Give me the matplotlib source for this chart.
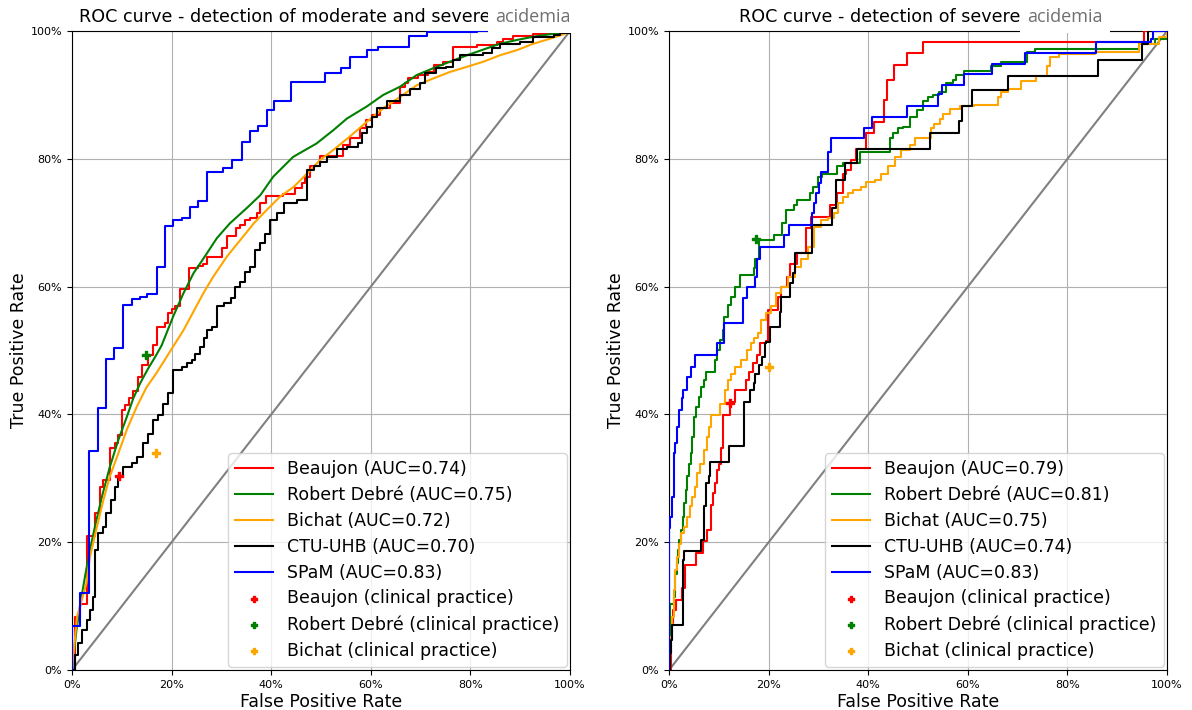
import matplotlib
matplotlib.use("Agg")
import matplotlib.pyplot as plt
from matplotlib.ticker import PercentFormatter

# ---------------- data : left panel (moderate and severe acidemia) ----------------
L_beaujon_fpr = [0, 0.006, 0.017, 0.031, 0.046, 0.056, 0.063, 0.076, 0.086, 0.093, 0.1, 0.106, 0.115, 0.123, 0.132, 0.14, 0.153, 0.163, 0.171, 0.187, 0.193, 0.2, 0.207, 0.217, 0.234, 0.254, 0.264, 0.272, 0.302, 0.311, 0.329, 0.337, 0.347, 0.357, 0.371, 0.378, 0.39, 0.424, 0.448, 0.461, 0.468, 0.478, 0.498, 0.545, 0.558, 0.578, 0.59, 0.602, 0.618, 0.639, 0.659, 0.668, 0.675, 0.695, 0.715, 0.726, 0.745, 0.766, 0.813, 0.853, 0.866, 0.886, 0.926, 0.967, 0.98, 1.0]
L_beaujon_tpr = [0, 0.083, 0.104, 0.209, 0.245, 0.287, 0.297, 0.347, 0.355, 0.368, 0.407, 0.415, 0.425, 0.436, 0.459, 0.477, 0.493, 0.509, 0.537, 0.543, 0.558, 0.565, 0.57, 0.596, 0.629, 0.632, 0.636, 0.647, 0.661, 0.679, 0.691, 0.696, 0.704, 0.707, 0.715, 0.731, 0.742, 0.745, 0.754, 0.762, 0.772, 0.788, 0.804, 0.822, 0.832, 0.848, 0.861, 0.869, 0.879, 0.888, 0.913, 0.918, 0.926, 0.931, 0.936, 0.947, 0.952, 0.975, 0.978, 0.983, 0.988, 0.992, 0.995, 0.998, 1.0, 1.0]

L_debre_fpr = [0, 0.009, 0.017, 0.026, 0.036, 0.046, 0.06, 0.076, 0.093, 0.11, 0.123, 0.137, 0.153, 0.167, 0.18, 0.203, 0.224, 0.244, 0.264, 0.291, 0.317, 0.351, 0.378, 0.404, 0.444, 0.491, 0.525, 0.552, 0.592, 0.625, 0.659, 0.692, 0.726, 0.759, 0.793, 0.826, 0.859, 0.893, 0.926, 0.96, 0.987, 1.0]
L_debre_tpr = [0, 0.063, 0.104, 0.146, 0.188, 0.224, 0.271, 0.318, 0.36, 0.396, 0.425, 0.449, 0.472, 0.49, 0.508, 0.553, 0.59, 0.621, 0.644, 0.676, 0.699, 0.723, 0.743, 0.772, 0.803, 0.824, 0.845, 0.863, 0.882, 0.9, 0.913, 0.931, 0.942, 0.952, 0.962, 0.971, 0.98, 0.986, 0.991, 0.995, 0.998, 1.0]

L_bichat_fpr = [0, 0.01, 0.029, 0.036, 0.05, 0.063, 0.076, 0.093, 0.11, 0.13, 0.15, 0.169, 0.19, 0.207, 0.224, 0.244, 0.264, 0.284, 0.311, 0.338, 0.365, 0.391, 0.418, 0.445, 0.472, 0.498, 0.525, 0.558, 0.592, 0.625, 0.659, 0.692, 0.726, 0.759, 0.793, 0.826, 0.859, 0.893, 0.926, 0.96, 0.987, 1.0]
L_bichat_tpr = [0, 0.083, 0.136, 0.177, 0.224, 0.266, 0.303, 0.339, 0.376, 0.412, 0.443, 0.464, 0.49, 0.511, 0.532, 0.561, 0.59, 0.616, 0.647, 0.673, 0.699, 0.72, 0.741, 0.756, 0.777, 0.798, 0.814, 0.835, 0.858, 0.879, 0.897, 0.915, 0.926, 0.936, 0.944, 0.952, 0.962, 0.97, 0.98, 0.988, 0.995, 1.0]

L_ctu_fpr = [0, 0.006, 0.013, 0.02, 0.03, 0.036, 0.043, 0.046, 0.053, 0.063, 0.069, 0.079, 0.086, 0.093, 0.103, 0.12, 0.13, 0.143, 0.153, 0.163, 0.173, 0.183, 0.193, 0.203, 0.22, 0.23, 0.24, 0.247, 0.257, 0.265, 0.272, 0.281, 0.291, 0.305, 0.319, 0.328, 0.338, 0.348, 0.358, 0.368, 0.378, 0.388, 0.398, 0.412, 0.425, 0.452, 0.471, 0.485, 0.498, 0.512, 0.532, 0.552, 0.575, 0.582, 0.592, 0.602, 0.612, 0.632, 0.659, 0.679, 0.699, 0.709, 0.731, 0.751, 0.765, 0.779, 0.826, 0.843, 0.859, 0.899, 0.926, 0.967, 0.98, 1.0]
L_ctu_tpr = [0, 0.023, 0.042, 0.063, 0.078, 0.094, 0.115, 0.188, 0.214, 0.224, 0.245, 0.266, 0.287, 0.303, 0.318, 0.324, 0.334, 0.355, 0.37, 0.391, 0.399, 0.417, 0.433, 0.469, 0.475, 0.48, 0.485, 0.495, 0.506, 0.52, 0.532, 0.537, 0.569, 0.574, 0.582, 0.6, 0.608, 0.623, 0.631, 0.657, 0.668, 0.683, 0.704, 0.715, 0.731, 0.736, 0.782, 0.788, 0.795, 0.803, 0.816, 0.819, 0.824, 0.84, 0.85, 0.866, 0.879, 0.89, 0.9, 0.91, 0.918, 0.934, 0.942, 0.944, 0.955, 0.962, 0.965, 0.973, 0.98, 0.983, 0.99, 0.994, 0.997, 1.0]

L_spam_fpr = [0, 0, 0.017, 0.035, 0.052, 0.068, 0.084, 0.102, 0.12, 0.137, 0.151, 0.17, 0.187, 0.203, 0.22, 0.237, 0.254, 0.272, 0.304, 0.322, 0.341, 0.357, 0.374, 0.391, 0.406, 0.44, 0.508, 0.541, 0.558, 0.592, 0.614, 0.677, 0.712, 0.814, 1.0]
L_spam_tpr = [0, 0.069, 0.12, 0.342, 0.41, 0.487, 0.504, 0.571, 0.58, 0.584, 0.588, 0.631, 0.695, 0.704, 0.707, 0.725, 0.734, 0.78, 0.785, 0.798, 0.827, 0.844, 0.852, 0.877, 0.891, 0.921, 0.935, 0.942, 0.959, 0.971, 0.975, 0.992, 0.998, 1.0, 1.0]

L_auc = {"Beaujon": "0.74", "Robert Debré": "0.75", "Bichat": "0.72", "CTU-UHB": "0.70", "SPaM": "0.83"}
L_clinical = {"Beaujon": (0.095, 0.303), "Robert Debré": (0.149, 0.493), "Bichat": (0.168, 0.339)}

# ---------------- data : right panel (severe acidemia) ----------------
R_beaujon_fpr = [0, 0.004, 0.007, 0.014, 0.025, 0.032, 0.054, 0.068, 0.076, 0.084, 0.088, 0.092, 0.097, 0.101, 0.104, 0.108, 0.122, 0.133, 0.155, 0.161, 0.169, 0.177, 0.183, 0.195, 0.199, 0.219, 0.225, 0.237, 0.243, 0.257, 0.275, 0.285, 0.323, 0.337, 0.35, 0.355, 0.366, 0.376, 0.396, 0.412, 0.432, 0.438, 0.452, 0.477, 0.509, 0.954, 1.0]
R_beaujon_tpr = [0, 0.073, 0.094, 0.11, 0.128, 0.164, 0.183, 0.202, 0.219, 0.258, 0.277, 0.292, 0.313, 0.323, 0.347, 0.399, 0.42, 0.438, 0.454, 0.467, 0.48, 0.493, 0.511, 0.515, 0.563, 0.584, 0.6, 0.615, 0.636, 0.652, 0.691, 0.709, 0.728, 0.746, 0.777, 0.782, 0.798, 0.816, 0.84, 0.858, 0.892, 0.923, 0.947, 0.966, 0.983, 1.0, 1.0]

R_debre_fpr = [0, 0.002, 0.009, 0.012, 0.015, 0.018, 0.02, 0.023, 0.027, 0.03, 0.034, 0.037, 0.04, 0.044, 0.047, 0.05, 0.055, 0.06, 0.064, 0.07, 0.075, 0.092, 0.097, 0.102, 0.108, 0.111, 0.119, 0.125, 0.132, 0.142, 0.17, 0.173, 0.18, 0.21, 0.227, 0.234, 0.25, 0.257, 0.283, 0.29, 0.3, 0.307, 0.337, 0.35, 0.384, 0.444, 0.45, 0.46, 0.47, 0.483, 0.497, 0.51, 0.52, 0.53, 0.543, 0.557, 0.57, 0.577, 0.592, 0.646, 0.666, 0.718, 0.734, 0.944, 0.975, 1.0]
R_debre_tpr = [0, 0.104, 0.115, 0.151, 0.167, 0.188, 0.203, 0.219, 0.24, 0.261, 0.282, 0.303, 0.323, 0.339, 0.365, 0.396, 0.412, 0.428, 0.443, 0.454, 0.467, 0.485, 0.501, 0.516, 0.532, 0.553, 0.571, 0.584, 0.6, 0.618, 0.629, 0.644, 0.673, 0.681, 0.699, 0.72, 0.728, 0.736, 0.746, 0.756, 0.772, 0.777, 0.788, 0.793, 0.811, 0.832, 0.84, 0.848, 0.85, 0.866, 0.876, 0.89, 0.896, 0.9, 0.905, 0.918, 0.923, 0.931, 0.938, 0.946, 0.951, 0.967, 0.972, 0.979, 0.988, 1.0]

R_bichat_fpr = [0, 0.002, 0.005, 0.009, 0.012, 0.015, 0.019, 0.023, 0.029, 0.036, 0.042, 0.046, 0.052, 0.056, 0.062, 0.07, 0.076, 0.08, 0.084, 0.103, 0.112, 0.119, 0.125, 0.132, 0.145, 0.156, 0.164, 0.171, 0.178, 0.185, 0.195, 0.205, 0.215, 0.225, 0.239, 0.252, 0.265, 0.279, 0.292, 0.306, 0.319, 0.332, 0.339, 0.349, 0.359, 0.369, 0.386, 0.396, 0.413, 0.426, 0.439, 0.453, 0.466, 0.484, 0.494, 0.525, 0.531, 0.545, 0.551, 0.565, 0.585, 0.612, 0.66, 0.667, 0.68, 0.707, 0.737, 0.758, 0.764, 0.783, 0.856, 0.944, 0.983, 1.0]
R_bichat_tpr = [0, 0.052, 0.083, 0.125, 0.156, 0.177, 0.198, 0.214, 0.224, 0.24, 0.256, 0.271, 0.287, 0.308, 0.323, 0.344, 0.365, 0.381, 0.399, 0.417, 0.438, 0.454, 0.464, 0.475, 0.485, 0.501, 0.511, 0.519, 0.527, 0.548, 0.558, 0.569, 0.59, 0.6, 0.615, 0.631, 0.644, 0.662, 0.694, 0.704, 0.708, 0.715, 0.731, 0.741, 0.746, 0.751, 0.756, 0.763, 0.767, 0.777, 0.788, 0.803, 0.814, 0.822, 0.833, 0.849, 0.854, 0.862, 0.87, 0.878, 0.883, 0.885, 0.896, 0.904, 0.909, 0.922, 0.93, 0.946, 0.959, 0.964, 0.967, 0.98, 0.991, 1.0]

R_ctu_fpr = [0, 0.001, 0.003, 0.005, 0.027, 0.028, 0.03, 0.065, 0.07, 0.074, 0.08, 0.082, 0.121, 0.15, 0.163, 0.17, 0.173, 0.18, 0.186, 0.193, 0.195, 0.203, 0.222, 0.224, 0.243, 0.249, 0.252, 0.286, 0.288, 0.327, 0.335, 0.353, 0.377, 0.523, 0.582, 0.589, 0.608, 0.681, 0.861, 0.95, 0.961, 1.0]
R_ctu_tpr = [0, 0.026, 0.047, 0.07, 0.125, 0.172, 0.187, 0.203, 0.256, 0.292, 0.303, 0.326, 0.351, 0.42, 0.438, 0.449, 0.464, 0.477, 0.49, 0.511, 0.514, 0.537, 0.561, 0.584, 0.605, 0.621, 0.652, 0.673, 0.696, 0.723, 0.767, 0.793, 0.816, 0.84, 0.859, 0.883, 0.907, 0.93, 0.954, 0.979, 1.0, 1.0]

R_spam_fpr = [0, 0, 0.002, 0.005, 0.009, 0.012, 0.015, 0.02, 0.025, 0.028, 0.035, 0.044, 0.053, 0.096, 0.111, 0.148, 0.156, 0.173, 0.176, 0.183, 0.231, 0.24, 0.288, 0.291, 0.296, 0.302, 0.306, 0.319, 0.326, 0.392, 0.407, 0.478, 0.541, 0.548, 0.592, 0.648, 0.714, 0.857, 0.968, 0.972, 1.0]
R_spam_tpr = [0, 0.222, 0.24, 0.271, 0.339, 0.355, 0.381, 0.407, 0.425, 0.438, 0.459, 0.475, 0.493, 0.511, 0.543, 0.582, 0.6, 0.615, 0.644, 0.662, 0.681, 0.696, 0.715, 0.731, 0.746, 0.762, 0.78, 0.811, 0.832, 0.849, 0.866, 0.882, 0.902, 0.916, 0.933, 0.949, 0.966, 0.983, 0.988, 1.0, 1.0]

R_auc = {"Beaujon": "0.79", "Robert Debré": "0.81", "Bichat": "0.75", "CTU-UHB": "0.74", "SPaM": "0.83"}
R_clinical = {"Beaujon": (0.122, 0.418), "Robert Debré": (0.175, 0.674), "Bichat": (0.201, 0.474)}

tick_values = [0, 0.2, 0.4, 0.6, 0.8, 1.0]
colors = {"Beaujon": "red", "Robert Debré": "green", "Bichat": "orange", "CTU-UHB": "black", "SPaM": "blue"}

panels = [
    dict(curves=[("Beaujon", L_beaujon_fpr, L_beaujon_tpr, "steps-post"),
                 ("Robert Debré", L_debre_fpr, L_debre_tpr, "default"),
                 ("Bichat", L_bichat_fpr, L_bichat_tpr, "default"),
                 ("CTU-UHB", L_ctu_fpr, L_ctu_tpr, "steps-post"),
                 ("SPaM", L_spam_fpr, L_spam_tpr, "steps-post")],
         auc=L_auc, clinical=L_clinical,
         title="ROC curve - detection of moderate and severe", tx=0.841, ax2=0.849),
    dict(curves=[("Beaujon", R_beaujon_fpr, R_beaujon_tpr, "steps-post"),
                 ("Robert Debré", R_debre_fpr, R_debre_tpr, "steps-post"),
                 ("Bichat", R_bichat_fpr, R_bichat_tpr, "steps-post"),
                 ("CTU-UHB", R_ctu_fpr, R_ctu_tpr, "steps-post"),
                 ("SPaM", R_spam_fpr, R_spam_tpr, "steps-post")],
         auc=R_auc, clinical=R_clinical,
         title="ROC curve - detection of severe", tx=0.705, ax2=0.719),
]

fig = plt.figure(figsize=(11.92, 7.10), dpi=100)
axes = [fig.add_axes([0.0604, 0.0563, 0.4178, 0.9000]),
        fig.add_axes([0.5613, 0.0563, 0.4178, 0.9000])]

for ax, p in zip(axes, panels):
    for name, fx, ty, ds in p["curves"]:
        ax.plot(fx, ty, color=colors[name], lw=1.5, drawstyle=ds,
                label=f"{name} (AUC={p['auc'][name]})", zorder=3)
    ax.plot([0, 1], [0, 1], color="grey", lw=1.5, zorder=2)
    for name, (cx, cy) in p["clinical"].items():
        ax.scatter([cx], [cy], marker="P", s=32, color=colors[name],
                   label=f"{name} (clinical practice)", zorder=4)
    ax.set_xlim(0, 1)
    ax.set_ylim(0, 1)
    ax.set_xticks(tick_values)
    ax.set_yticks(tick_values)
    ax.xaxis.set_major_formatter(PercentFormatter(1.0, decimals=0))
    ax.yaxis.set_major_formatter(PercentFormatter(1.0, decimals=0))
    ax.tick_params(labelsize=8)
    ax.grid(True, color="#b0b0b0", lw=0.8)
    ax.set_axisbelow(True)
    ax.set_xlabel("False Positive Rate", fontsize=12.5, labelpad=2)
    ax.set_ylabel("True Positive Rate", fontsize=12.5, labelpad=2)
    ax.legend(loc="lower right", fontsize=12.5, borderaxespad=0.2,
              handlelength=2.2, labelspacing=0.45, markerscale=0.75)
    ax.text(p["tx"], 1.022, p["title"], transform=ax.transAxes, ha="right",
            va="center", fontsize=12.6, color="black", clip_on=False)
    ax.text(p["ax2"], 1.022, "acidemia", transform=ax.transAxes, ha="left",
            va="center", fontsize=13, color="#707070", family="Open Sans",
            clip_on=False, zorder=6,
            bbox=dict(boxstyle="square,pad=0.4", fc="white", ec="none"))

fig.savefig("out.png", dpi=100)
